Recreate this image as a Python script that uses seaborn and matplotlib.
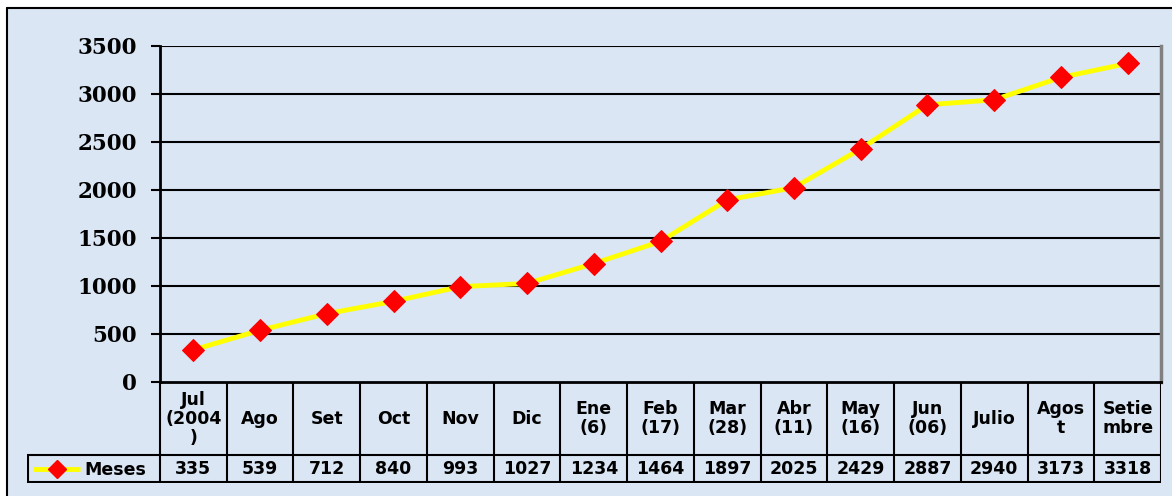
import matplotlib
matplotlib.use("Agg")
import matplotlib.pyplot as plt
from matplotlib.patches import Rectangle
from matplotlib.lines import Line2D
import numpy as np
import pandas as pd
import seaborn as sns

# data
months = ["Jul\n(2004\n)", "Ago", "Set", "Oct", "Nov", "Dic", "Ene\n(6)", "Feb\n(17)",
          "Mar\n(28)", "Abr\n(11)", "May\n(16)", "Jun\n(06)", "Julio", "Agos\nt", "Setie\nmbre"]
values = [335, 539, 712, 840, 993, 1027, 1234, 1464, 1897, 2025, 2429, 2887, 2940, 3173, 3318]
series_name = "Meses"
yticks = [0, 500, 1000, 1500, 2000, 2500, 3000, 3500]

W, H = 1172, 496
BG = "#dae6f4"

sns.set_theme(style="white")
plt.rcParams["font.family"] = ["DejaVu Sans"]
plt.rcParams["text.color"] = "black"
plt.rcParams["ytick.color"] = "black"
plt.rcParams["ytick.labelcolor"] = "black"

df = pd.DataFrame({"pos": np.arange(len(values)), "value": values})

fig = plt.figure(figsize=(W / 100, H / 100), dpi=100)
fig.patch.set_facecolor("white")

# blue chart area with border on top and left
fig.patches.append(Rectangle((7 / W, 0), 1, 1 - 8 / H, transform=fig.transFigure,
                             facecolor=BG, edgecolor="none", zorder=-10))
fig.lines.append(Line2D([7 / W, 1], [1 - 8 / H, 1 - 8 / H], transform=fig.transFigure,
                        color="black", lw=1.5, zorder=-5))
fig.lines.append(Line2D([7 / W, 7 / W], [0, 1 - 8 / H], transform=fig.transFigure,
                        color="black", lw=1.5, zorder=-5))

# plot area (pixels 160..1161 x 46..382)
x0, x1, ytop, ybot = 160, 1161, 46, 382
ax = fig.add_axes([x0 / W, 1 - ybot / H, (x1 - x0) / W, (ybot - ytop) / H])
ax.set_facecolor("none")

sns.lineplot(data=df, x="pos", y="value", ax=ax, color="#ffff00", lw=3.5,
             marker="D", markersize=11, markerfacecolor="#ff0000",
             markeredgecolor="#ff0000", zorder=5)

ax.set_xlim(-0.5, len(values) - 0.5)
ax.set_ylim(0, 3500)
ax.set_yticks(yticks)
ax.set_yticklabels([str(t) for t in yticks], fontfamily="DejaVu Serif",
                   fontweight="bold", fontsize=15.5, color="black")
ax.tick_params(axis="y", left=True, length=6.5, width=1.5, color="black", pad=10)
ax.set_xticks([])
ax.set_xlabel("")
ax.set_ylabel("")
for t in yticks[1:]:
    ax.axhline(t, color="black", lw=1.5, zorder=1)
ax.spines["top"].set_visible(False)
ax.spines["left"].set_color("black")
ax.spines["left"].set_linewidth(2)
ax.spines["bottom"].set_color("black")
ax.spines["bottom"].set_linewidth(2)
ax.spines["right"].set_color("#808080")
ax.spines["right"].set_linewidth(2.5)

# data table below the plot
colw = (x1 - x0) / len(values)
tleft = 27
tx_min = -0.5 - (x0 - tleft) / colw
tax = fig.add_axes([tleft / W, 1 - 483 / H, (x1 - tleft) / W, (483 - ybot) / H])
tax.set_facecolor("none")
tax.set_xlim(tx_min, len(values) - 0.5)
tax.set_ylim(484, ybot)
tax.axis("off")

n = len(values)
for i in range(n + 1):
    tax.vlines(i - 0.5, ybot, 483, color="black", lw=1.5)
tax.vlines(tx_min + 0.01, 456, 483, color="black", lw=1.5)
tax.hlines([456, 483], tx_min, n - 0.5, color="black", lw=1.5)

for i, (m, v) in enumerate(zip(months, values)):
    tax.text(i, 419, m, ha="center", va="center", fontsize=12.5, fontweight="bold",
             linespacing=1.08, color="black")
    tax.text(i, 470, str(v), ha="center", va="center", fontsize=12.5, fontweight="bold",
             color="black")

def px(p):
    return -0.5 + (p - x0) / colw

tax.plot([px(33), px(80)], [470, 470], color="#ffff00", lw=3.5, solid_capstyle="butt")
tax.plot([px(57)], [470], marker="D", markersize=9, color="#ff0000", ls="none")
tax.text(px(84), 471, series_name, ha="left", va="center", fontsize=12.5, fontweight="bold",
         color="black")

fig.savefig("out.png", dpi=100, facecolor=fig.get_facecolor())
